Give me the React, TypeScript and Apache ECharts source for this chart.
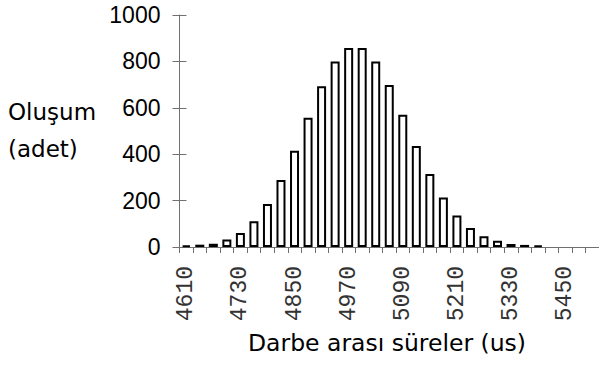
import React, { useEffect, useRef } from "react";
import * as echarts from "echarts";

const categories: string[] = [
  "4610", "4640", "4670", "4700", "4730", "4760", "4790", "4820", "4850", "4880",
  "4910", "4940", "4970", "5000", "5030", "5060", "5090", "5120", "5150", "5180",
  "5210", "5240", "5270", "5300", "5330", "5360", "5390", "5420", "5450", "5480", "5510",
];
const counts: number[] = [
  7, 10, 14, 32, 60, 111, 185, 289, 415, 557,
  693, 800, 858, 858, 800, 698, 570, 435, 315, 213,
  136, 82, 46, 27, 13, 9, 6, 0, 0, 0, 0,
];
const yTicks: number[] = [0, 200, 400, 600, 800, 1000];
const xAxisTitle = "Darbe arası süreler (us)";
const yAxisTitle = "Oluşum\n(adet)";

const SANS = "DejaVu Sans";
const ARIAL = "Liberation Sans";
const MONO = "Liberation Mono";
const AXIS_GRAY = "#707070";

export default function App() {
  const ref = useRef<HTMLDivElement>(null);
  useEffect(() => {
    if (!ref.current) return;
    const chart = echarts.init(ref.current, undefined, { renderer: "svg" });
    const yMin = yTicks[0];
    const yMax = yTicks[yTicks.length - 1];
    const yInterval = yTicks[1] - yTicks[0];
    chart.setOption({
      animation: false,
      backgroundColor: "#ffffff",
      grid: { left: 179.5, top: 15, right: -2, bottom: 118, containLabel: false },
      xAxis: {
        type: "category",
        data: categories,
        boundaryGap: true,
        axisLine: { show: true, lineStyle: { color: AXIS_GRAY, width: 1 } },
        axisTick: { show: true, interval: 0, length: 6, lineStyle: { color: AXIS_GRAY } },
        axisLabel: {
          interval: 3,
          rotate: 90,
          margin: 19,
          fontFamily: MONO,
          fontSize: 23,
          color: "#333",
        },
        splitLine: { show: false },
      },
      yAxis: [
        {
          type: "value",
          min: yMin,
          max: yMax,
          interval: yInterval,
          axisLine: { show: true, lineStyle: { color: AXIS_GRAY, width: 1 } },
          axisTick: { show: true, length: 7, lineStyle: { color: AXIS_GRAY } },
          axisLabel: {
            margin: 19,
            fontFamily: ARIAL,
            fontSize: 23,
            color: "#000",
            formatter: (v: number) => String(v),
          },
          splitLine: { show: false },
        },
        {
          type: "value",
          position: "left",
          min: yMin,
          max: yMax,
          interval: yInterval,
          axisLine: { show: false },
          axisTick: { show: true, inside: true, length: 7, lineStyle: { color: AXIS_GRAY } },
          axisLabel: { show: false },
          splitLine: { show: false },
        },
      ],
      series: [
        {
          type: "bar",
          yAxisIndex: 0,
          data: counts.map((v) => (v === 0 ? null : v)),
          barWidth: 9,
          itemStyle: { color: "#ffffff", borderColor: "#000000", borderWidth: 2 },
        },
      ],
      graphic: [
        {
          type: "text",
          left: 8,
          top: 93,
          style: {
            text: yAxisTitle,
            fontFamily: SANS,
            fontSize: 23,
            lineHeight: 37,
            fill: "#000",
          },
        },
        {
          type: "text",
          x: 387,
          y: 343,
          style: {
            text: xAxisTitle,
            fontFamily: SANS,
            fontSize: 23.5,
            fill: "#000",
            align: "center",
            verticalAlign: "middle",
          },
        },
      ],
    });
    return () => chart.dispose();
  }, []);
  return (
    <div
      ref={ref}
      style={{ position: "absolute", left: 0, top: 0, width: 599, height: 365 }}
    />
  );
}
